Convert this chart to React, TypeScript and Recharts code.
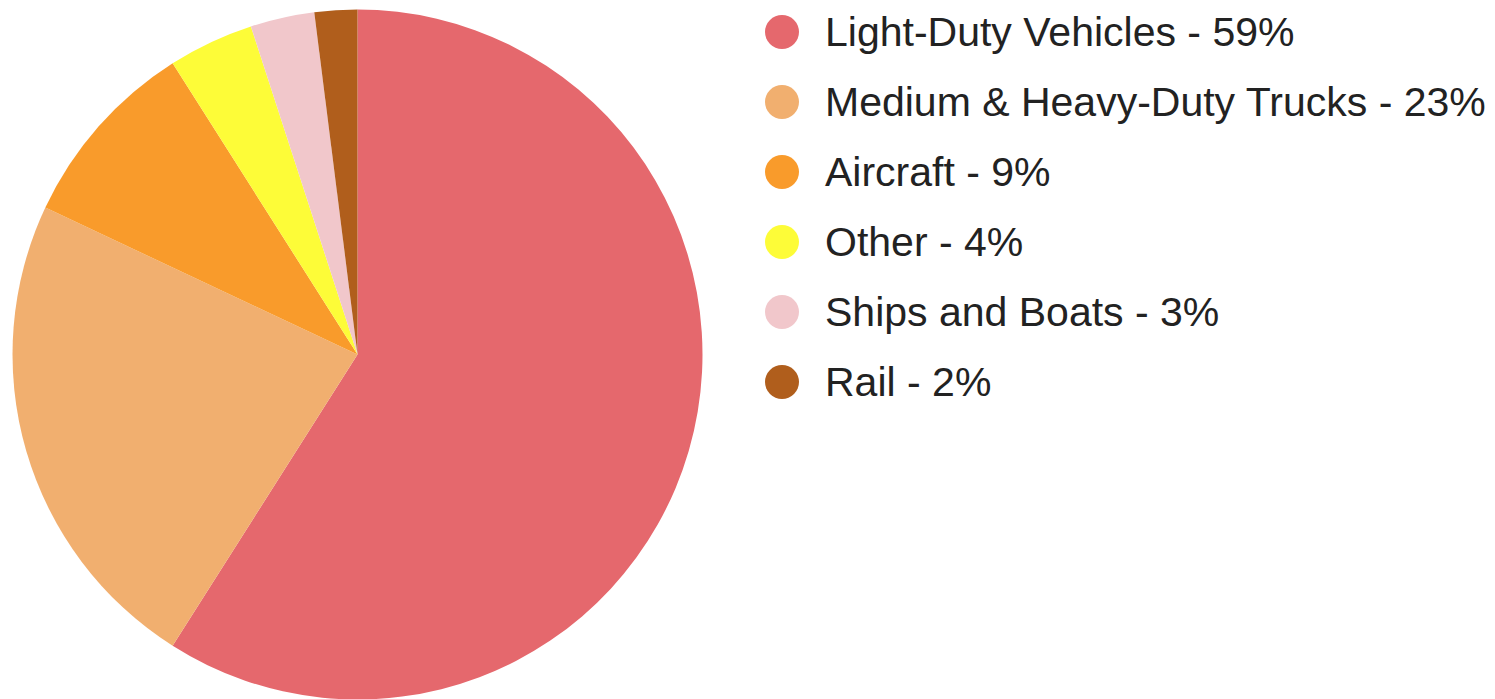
import React from "react";
import { PieChart, Pie, Cell, Legend } from "recharts";

// Transportation emissions share by source (%)
const categories = [
  "Light-Duty Vehicles",
  "Medium & Heavy-Duty Trucks",
  "Aircraft",
  "Other",
  "Ships and Boats",
  "Rail",
];
const shares = [59, 23, 9, 4, 3, 2];
const colors = ["#e5686d", "#f1af6f", "#f99b2b", "#fdfc38", "#f1c7cb", "#b05e1c"];

const data = categories.map((name, i) => ({ name, value: shares[i] }));

function LegendList() {
  return (
    <div style={{ fontFamily: "Arial, 'Liberation Sans', sans-serif" }}>
      {data.map((d, i) => (
        <div
          key={d.name}
          style={{ display: "flex", alignItems: "center", height: 70 }}
        >
          <span
            style={{
              width: 34,
              height: 34,
              borderRadius: "50%",
              background: colors[i],
              display: "inline-block",
              flexShrink: 0,
            }}
          />
          <span
            style={{
              marginLeft: 26,
              fontSize: 41,
              color: "#222222",
              whiteSpace: "nowrap",
            }}
          >
            {d.name} - {d.value}%
          </span>
        </div>
      ))}
    </div>
  );
}

export default function App() {
  return (
    <div style={{ position: "absolute", left: 0, top: 0, background: "#fff" }}>
      <PieChart
        width={1495}
        height={699}
        margin={{ top: 0, right: 0, bottom: 0, left: 0 }}
      >
        <Pie
          data={data}
          dataKey="value"
          nameKey="name"
          cx={357.5}
          cy={354.5}
          outerRadius={345}
          startAngle={90}
          endAngle={-270}
          stroke="none"
          isAnimationActive={false}
        >
          {data.map((d, i) => (
            <Cell key={d.name} fill={colors[i]} />
          ))}
        </Pie>
        <Legend
          layout="vertical"
          verticalAlign="top"
          align="right"
          content={() => <LegendList />}
          wrapperStyle={{ left: 765, top: -3, width: 730 }}
        />
      </PieChart>
    </div>
  );
}
